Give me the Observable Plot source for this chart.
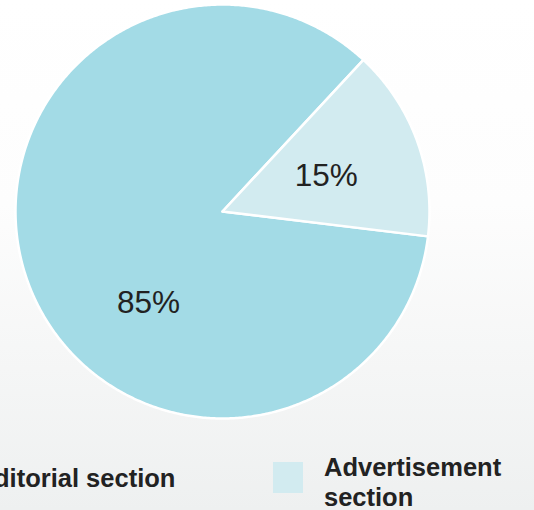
<!DOCTYPE html>
<html>
<head>
<meta charset="utf-8">
<script src="https://cdn.jsdelivr.net/npm/d3@7"></script>
<script src="https://cdn.jsdelivr.net/npm/@observablehq/plot@0.6"></script>
<style>
  html, body { margin: 0; padding: 0; }
  body { width: 534px; height: 510px; overflow: hidden;
         background: linear-gradient(to bottom, #ffffff 0%, #fdfdfd 40%, #eef0f0 100%);
         font-family: "Liberation Sans", Arial, sans-serif; }
  #wrap { position: relative; width: 534px; height: 510px; }
  #legend .item { position: absolute; display: flex; align-items: flex-start; }
  #legend .sw { width: 30px; height: 31px; flex: none; margin-top: 10px; }
  #legend .lab { margin-left: 21px; font-weight: bold; font-size: 25.5px; line-height: 30px; color: #222; }
</style>
</head>
<body>
<div id="wrap"><div id="chart"></div><div id="legend"></div></div>
<script>
const categories = ["Editorial section", "Advertisement section"];
const values = [85, 15];
const labels = ["85%", "15%"];
const colors = ["#a3dbe6", "#d2ebf0"];

const W = 534, H = 440;
const cx = 222, cy = 211, R = 207;
const startDeg = 96.9;

const pie = d3.pie().sort(null)
  .startAngle(startDeg * Math.PI / 180)
  .endAngle(startDeg * Math.PI / 180 + 2 * Math.PI);
const arcs = pie(values);

// polygon points for each slice (unit-circle coordinates, v up)
const pts = [];
arcs.forEach((a, i) => {
  const cat = categories[i];
  pts.push({cat, u: 0, v: 0});
  const n = Math.max(2, Math.ceil((a.endAngle - a.startAngle) / (Math.PI / 360)));
  for (let k = 0; k <= n; k++) {
    const t = a.startAngle + (a.endAngle - a.startAngle) * k / n;
    pts.push({cat, u: Math.sin(t), v: Math.cos(t)});
  }
  pts.push({cat, u: 0, v: 0});
});

// label anchors: angle shift (deg) and radius fraction per slice
const labelShift = [-31, 1];
const labelR = [0.57, 0.53];
const labelData = arcs.map((a, i) => {
  const t = (a.startAngle + a.endAngle) / 2 + labelShift[i] * Math.PI / 180;
  return {label: labels[i], u: labelR[i] * Math.sin(t), v: labelR[i] * Math.cos(t)};
});

const chart = Plot.plot({
  width: W, height: H,
  margin: 0,
  style: {background: "transparent", overflow: "visible"},
  x: {domain: [-cx / R, (W - cx) / R], axis: null},
  y: {domain: [(cy - H) / R, cy / R], axis: null},
  color: {domain: categories, range: colors},
  marks: [
    Plot.line(pts, {x: "u", y: "v", z: "cat", fill: "cat", stroke: "white", strokeWidth: 2.5, strokeLinejoin: "round", curve: "linear"}),
    Plot.text(labelData, {x: "u", y: "v", text: "label", fontSize: 31.5, fill: "#222", fontFamily: "Liberation Sans, Arial, sans-serif"})
  ]
});
document.getElementById("chart").appendChild(chart);

// legend
const legendPos = [{left: -74, top: 463}, {left: 273, top: 452}];
const leg = document.getElementById("legend");
categories.forEach((c, i) => {
  const it = document.createElement("div");
  it.className = "item";
  it.style.left = legendPos[i].left + "px";
  it.style.top = legendPos[i].top + "px";
  const sw = document.createElement("div");
  sw.className = "sw";
  sw.style.background = colors[i];
  const lab = document.createElement("div");
  lab.className = "lab";
  lab.innerHTML = i === 1 ? "Advertisement<br>section" : c;
  it.appendChild(sw); it.appendChild(lab);
  leg.appendChild(it);
});
</script>
</body>
</html>
